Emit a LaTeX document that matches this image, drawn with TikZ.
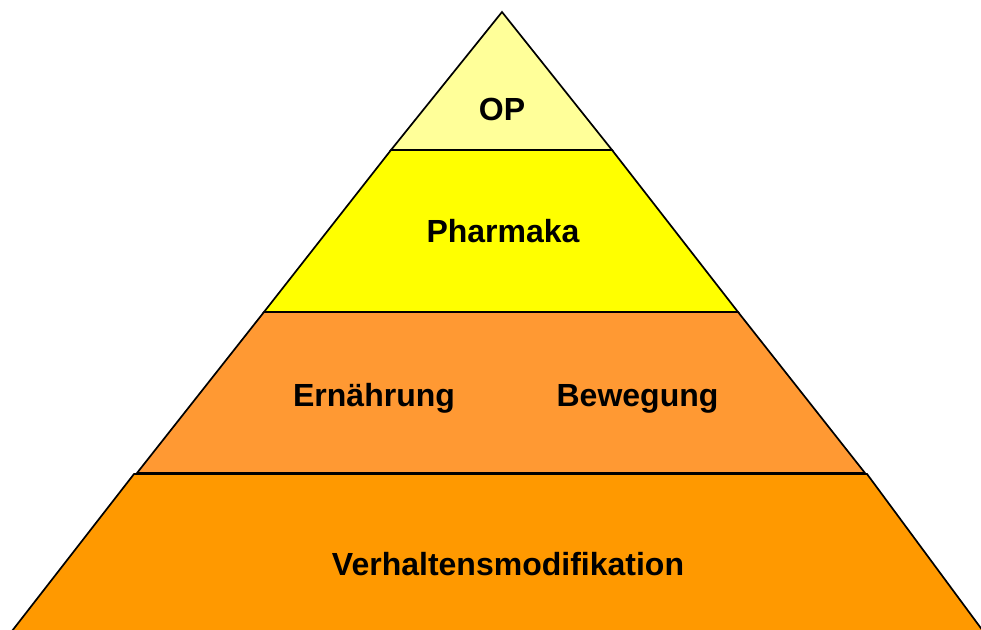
\documentclass[tikz,border=0pt]{standalone}
\usepackage{fontspec}
\setmainfont{Liberation Sans}
\definecolor{layerA}{HTML}{FFFF99}
\definecolor{layerB}{HTML}{FFFF00}
\definecolor{layerC}{HTML}{FF9933}
\definecolor{layerD}{HTML}{FF9900}
\begin{document}
\begin{tikzpicture}[x=1pt,y=-1pt,
  layer/.style={draw=black,line width=1.7pt,line join=miter},
  lbl/.style={font=\fontsize{32}{38}\selectfont\bfseries,anchor=base,inner sep=0pt}]
\useasboundingbox (0,0) rectangle (981,629);
\begin{scope}
\clip (0,0) rectangle (981,629);
\fill[layerD,layer] (134,474) -- (867,474) -- (983,631) -- (12,631) -- cycle;
\fill[layerC,layer] (264,312) -- (738,312) -- (865,473) -- (137,473) -- cycle;
\fill[layerB,layer] (391,150) -- (612,150) -- (738,312) -- (264,312) -- cycle;
\fill[layerA,layer] (502,12) -- (612,150) -- (391,150) -- cycle;
\end{scope}
\node[lbl] (op) at (502,120.5) {OP};
\node[lbl] (pharmaka) at (503,242) {Pharmaka};
\node[lbl] (ernaehrung) at (374,406.5) {Ernährung};
\node[lbl] (bewegung) at (637.5,406.5) {Bewegung};
\node[lbl] (verhalten) at (508,575) {Verhaltensmodifikation};
\end{tikzpicture}
\end{document}
